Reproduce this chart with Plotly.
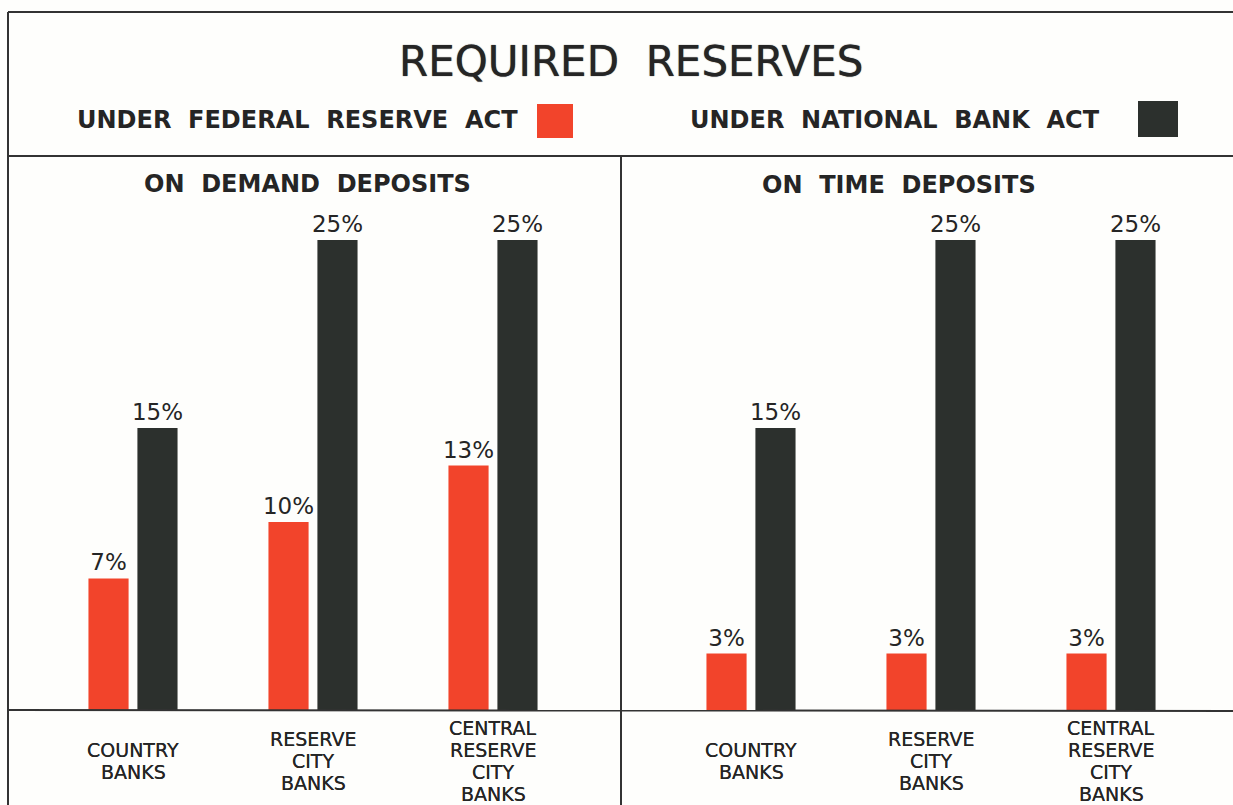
import plotly.graph_objects as go

# Bank categories and reserve percentages
categories = ["COUNTRY<br>BANKS", "RESERVE<br>CITY<br>BANKS", "CENTRAL<br>RESERVE<br>CITY<br>BANKS"]
federal_demand = [7, 10, 13]
national_demand = [15, 25, 25]
federal_time = [3, 3, 3]
national_time = [15, 25, 25]

RED = "#f2442b"
DARK = "#2c302d"
INK = "#252525"
W, H = 1233, 805
FONT = "DejaVu Sans"


def px_x(x):
    return x / W


def px_y(y):
    return 1 - y / H


fig = go.Figure()

x_idx = list(range(len(categories)))
panels = [
    ("x", "y", federal_demand, national_demand),
    ("x2", "y2", federal_time, national_time),
]
for xa, ya, fed, nat in panels:
    for vals, color, name in [(fed, RED, "Under Federal Reserve Act"),
                              (nat, DARK, "Under National Bank Act")]:
        fig.add_trace(go.Bar(
            x=x_idx, y=vals, name=name, marker=dict(color=color, line=dict(width=0)),
            text=[f"{v}%" for v in vals], textposition="outside", constraintext="none",
            textfont=dict(family=FONT, size=23, color=INK),
            cliponaxis=False, showlegend=False, xaxis=xa, yaxis=ya,
        ))

# value axis: baseline at 710 px, 25% reaching 240 px
y_dom = [px_y(710), px_y(160)]
y_rng = [0, 550 / (470 / 25)]
axis_common = dict(showgrid=False, zeroline=False, showticklabels=False, showline=False, ticks="")
fig.update_layout(
    width=W, height=H, margin=dict(l=0, r=0, t=0, b=0),
    paper_bgcolor="#fefefc", plot_bgcolor="rgba(0,0,0,0)",
    barmode="group", bargap=0.456, bargroupgap=0.18,
    xaxis=dict(domain=[px_x(43), px_x(583)], range=[-0.5, 2.5], **axis_common),
    xaxis2=dict(domain=[px_x(661), px_x(1201)], range=[-0.5, 2.5], **axis_common),
    yaxis=dict(domain=y_dom, range=y_rng, **axis_common),
    yaxis2=dict(domain=y_dom, range=y_rng, anchor="x2", **axis_common),
)

# Frame lines and legend swatches
line = dict(color="#333333", width=2)
shapes = [
    dict(type="line", xref="paper", yref="paper", x0=px_x(8), x1=1, y0=px_y(12), y1=px_y(12), line=line),
    dict(type="line", xref="paper", yref="paper", x0=px_x(8), x1=px_x(8), y0=px_y(12), y1=0, line=line),
    dict(type="line", xref="paper", yref="paper", x0=px_x(8), x1=1, y0=px_y(156), y1=px_y(156), line=line),
    dict(type="line", xref="paper", yref="paper", x0=px_x(621), x1=px_x(621), y0=px_y(156), y1=0, line=line),
    dict(type="line", xref="paper", yref="paper", x0=px_x(8), x1=1, y0=px_y(710), y1=px_y(711), line=line),
    dict(type="rect", xref="paper", yref="paper", x0=px_x(537), x1=px_x(573), y0=px_y(138), y1=px_y(104),
         fillcolor=RED, line=dict(width=0)),
    dict(type="rect", xref="paper", yref="paper", x0=px_x(1138), x1=px_x(1178), y0=px_y(137), y1=px_y(101),
         fillcolor=DARK, line=dict(width=0)),
]
fig.update_layout(shapes=shapes)

ann = []
ann.append(dict(text="REQUIRED&nbsp;&nbsp;RESERVES", x=px_x(631), y=px_y(62), xref="paper", yref="paper",
                showarrow=False, font=dict(family=FONT, size=42, color=INK, shadow="0px 0px 1px #333"),
                xanchor="center", yanchor="middle"))
ann.append(dict(text="<b>UNDER&nbsp;&nbsp;FEDERAL&nbsp;&nbsp;RESERVE&nbsp;&nbsp;ACT</b>", x=px_x(75), y=px_y(120),
                xref="paper", yref="paper", showarrow=False, font=dict(family=FONT, size=24, color=INK),
                xanchor="left", yanchor="middle"))
ann.append(dict(text="<b>UNDER&nbsp;&nbsp;NATIONAL&nbsp;&nbsp;BANK&nbsp;&nbsp;ACT</b>", x=px_x(688), y=px_y(120),
                xref="paper", yref="paper", showarrow=False, font=dict(family=FONT, size=24, color=INK),
                xanchor="left", yanchor="middle"))
ann.append(dict(text="<b>ON&nbsp;&nbsp;DEMAND&nbsp;&nbsp;DEPOSITS</b>", x=px_x(307), y=px_y(184), xref="paper",
                yref="paper", showarrow=False, font=dict(family=FONT, size=24, color=INK),
                xanchor="center", yanchor="middle"))
ann.append(dict(text="<b>ON&nbsp;&nbsp;TIME&nbsp;&nbsp;DEPOSITS</b>", x=px_x(899), y=px_y(185), xref="paper",
                yref="paper", showarrow=False, font=dict(family=FONT, size=24, color=INK),
                xanchor="center", yanchor="middle"))

# Category names under each group, one annotation per line for tighter leading
LINE_GAP = 22
for xr in ["x", "x2"]:
    for i, c in enumerate(categories):
        parts = c.split("<br>")
        first = 761 - LINE_GAP * (len(parts) - 1) / 2
        for k, part in enumerate(parts):
            ann.append(dict(text=part, x=i, y=px_y(first + k * LINE_GAP), xref=xr, yref="paper",
                            showarrow=False,
                            font=dict(family=FONT, size=19, color=INK, shadow="0px 0px 0.6px #333"),
                            xanchor="center", yanchor="middle"))
fig.update_layout(annotations=ann)

fig.write_html("out.html")
